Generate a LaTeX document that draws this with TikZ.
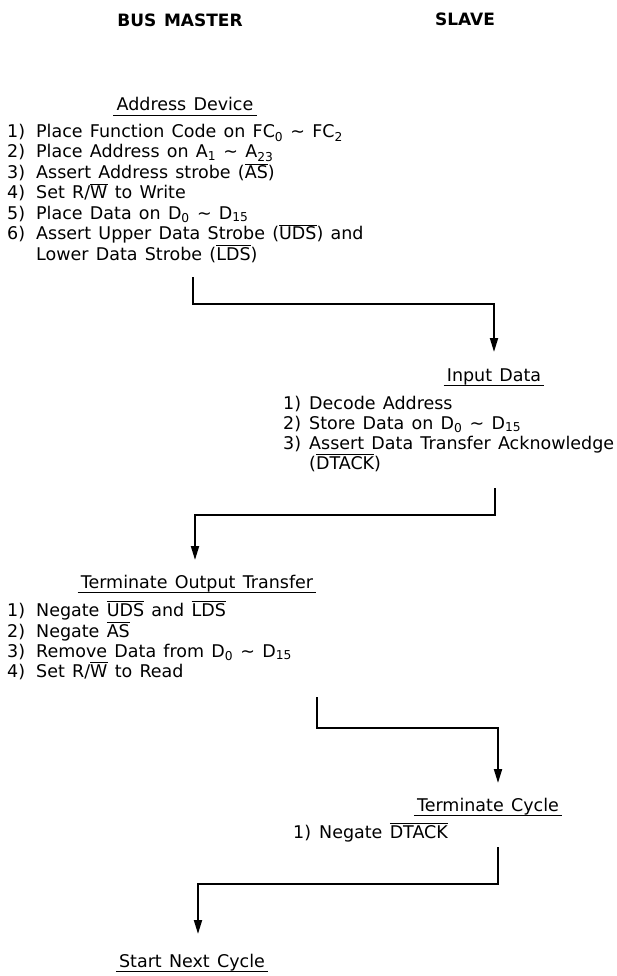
\documentclass[tikz,border=0pt]{standalone}
\usepackage{fontspec}
\setmainfont{DejaVu Sans}[WordSpace=1.3]
\usetikzlibrary{arrows.meta}
\newcommand\ovl[1]{\leavevmode\vbox{\hrule height 1pt\kern 1.3pt\hbox{#1}}}
\newcommand\sbs[1]{\textsubscript{#1}}
\newcommand\tld{\textasciitilde}
\newcommand\nb[1]{\makebox[29pt][l]{#1}}
\newcommand\nbs[1]{\makebox[26pt][l]{#1}}
\begin{document}
\begin{tikzpicture}[x=1pt,y=-1pt,
  txt/.style={inner sep=0pt, font=\fontsize{17.5}{20}\selectfont, anchor=base west},
  ttl/.style={inner xsep=3pt, inner ysep=0pt, text depth=4.5pt, font=\fontsize{17.5}{20}\selectfont, anchor=base},
  hdr/.style={inner sep=0pt, font=\bfseries\fontsize{17}{20}\selectfont, anchor=base},
  ul/.style={line width=1.3pt},
  flow/.style={line width=1.9pt, -{Triangle[length=14pt,width=8pt]}},
]
\useasboundingbox (0,0) rectangle (616,976);

% headers
\node[hdr] (hm) at (180,27) {BUS MASTER};
\node[hdr] (hs) at (465,26) {SLAVE};

% Address Device
\node[ttl] (t1) at (185,111) {Address Device};
\draw[ul] (t1.south west) -- (t1.south east);
\node[txt] (m1) at (7,138) {\nb{1)}Place Function Code on FC\sbs{0} \tld{} FC\sbs{2}};
\node[txt] (m2) at (7,158) {\nb{2)}Place Address on A\sbs{1} \tld{} A\sbs{23}};
\node[txt] (m3) at (7,179) {\nb{3)}Assert Address strobe (\ovl{AS})};
\node[txt] (m4) at (7,199) {\nb{4)}Set R/\ovl{W} to Write};
\node[txt] (m5) at (7,219) {\nb{5)}Place Data on D\sbs{0} \tld{} D\sbs{15}};
\node[txt] (m6) at (7,240) {\nb{6)}Assert Upper Data Strobe (\ovl{UDS}) and};
\node[txt] (m7) at (36,260) {Lower Data Strobe (\ovl{LDS})};

% connector 1
\coordinate (c1) at (193,277);
\coordinate (a1) at (494,352);
\draw[flow] (c1) -- ++(0,27) -| (a1);

% Input Data
\node[ttl] (t2) at (494,381) {Input Data};
\draw[ul] (t2.south west) -- (t2.south east);
\node[txt] (s1) at (283,409) {\nbs{1)}Decode Address};
\node[txt] (s2) at (283,429) {\nbs{2)}Store Data on D\sbs{0} \tld{} D\sbs{15}};
\node[txt] (s3) at (283,449) {\nbs{3)}Assert Data Transfer Acknowledge};
\node[txt] (s4) at (309,469) {(\ovl{DTACK})};

% connector 2
\coordinate (c2) at (495,488);
\coordinate (a2) at (195,560);
\draw[flow] (c2) -- ++(0,27) -| (a2);

% Terminate Output Transfer
\node[ttl] (t3) at (197,588) {Terminate Output Transfer};
\draw[ul] (t3.south west) -- (t3.south east);
\node[txt] (n1) at (7,616) {\nb{1)}Negate \ovl{UDS} and \ovl{LDS}};
\node[txt] (n2) at (7,637) {\nb{2)}Negate \ovl{AS}};
\node[txt] (n3) at (7,657) {\nb{3)}Remove Data from D\sbs{0} \tld{} D\sbs{15}};
\node[txt] (n4) at (7,677) {\nb{4)}Set R/\ovl{W} to Read};

% connector 3
\coordinate (c3) at (317,697);
\coordinate (a3) at (498,783);
\draw[flow] (c3) -- ++(0,31) -| (a3);

% Terminate Cycle
\node[ttl] (t4) at (488,811) {Terminate Cycle};
\draw[ul] (t4.south west) -- (t4.south east);
\node[txt] (k1) at (293,838) {\nbs{1)}Negate \ovl{DTACK}};

% connector 4
\coordinate (c4) at (498,847);
\coordinate (a4) at (198,934);
\draw[flow] (c4) -- ++(0,37) -| (a4);

% Start Next Cycle
\node[ttl] (t5) at (192,967) {Start Next Cycle};
\draw[ul] (t5.south west) -- (t5.south east);
\end{tikzpicture}
\end{document}
